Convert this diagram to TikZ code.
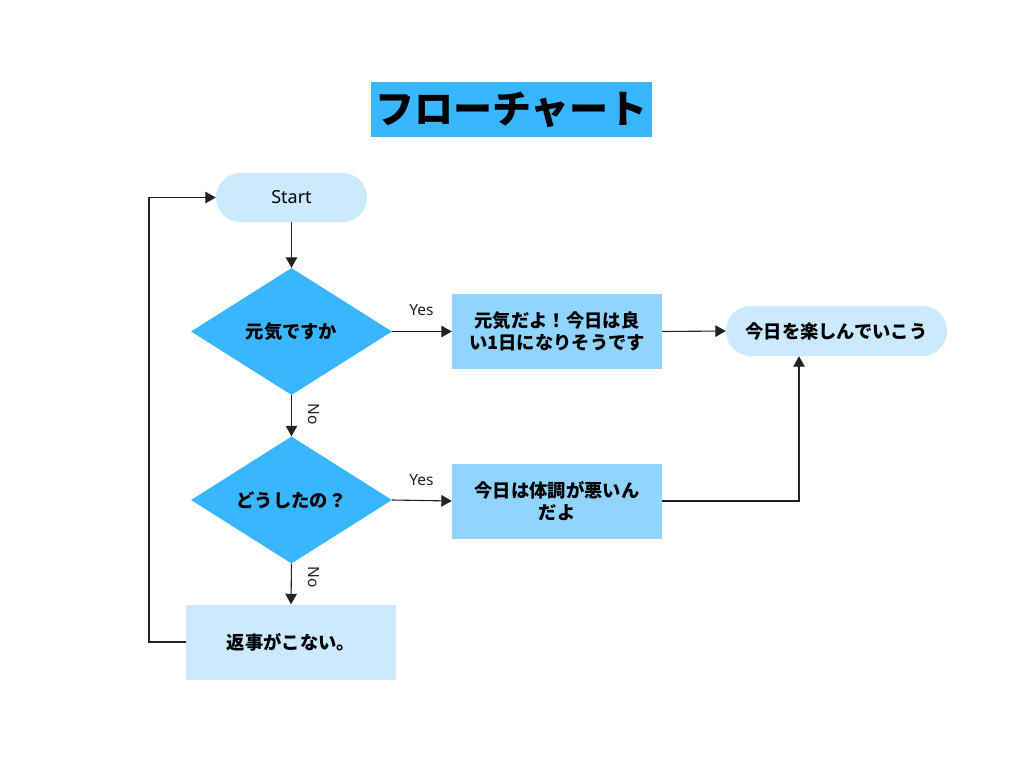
\documentclass[tikz,border=0pt]{standalone}
\usepackage{fontspec}
\setmainfont{Noto Sans}
\newfontfamily\jp{Noto Sans CJK JP}
\usetikzlibrary{shapes.geometric,arrows.meta}
\definecolor{deep}{HTML}{38B6FF}
\definecolor{mid}{HTML}{91D5FF}
\definecolor{pale}{HTML}{CBE9FF}
\definecolor{ln}{HTML}{222222}
\tikzset{
  jtext/.style={font=\jp\bfseries\fontsize{18.3}{21.5}\selectfont, text=black, align=center},
  pill/.style={jtext, rectangle, rounded corners=24.5pt, fill=pale, inner sep=0pt},
  decision/.style={jtext, diamond, fill=deep, inner sep=0pt, minimum width=201pt, minimum height=127pt},
  procbox/.style={jtext, rectangle, inner sep=0pt, minimum width=210pt, minimum height=75pt},
  conn/.style={draw=ln, line width=1.1pt, -{Triangle[length=10.5pt,width=11.5pt]}},
  lbl/.style={font=\fontsize{15.5}{18}\selectfont, text=ln, inner sep=0pt}
}
\begin{document}
\begin{tikzpicture}[x=1pt,y=-1pt]
\useasboundingbox (0,0) rectangle (1024,768);
\fill[white] (0,0) rectangle (1024,768);
% title
\node[fill=deep, minimum width=281pt, minimum height=55pt, inner sep=0pt,
      font=\jp\bfseries\fontsize{39}{42}\selectfont] (title) at (511.5,109.5) {\raisebox{-1pt}{フローチャート}};
% nodes
\node[pill, minimum width=151pt, minimum height=49pt, font=\fontsize{18}{21}\selectfont] (start) at (291.5,197.5) {Start};
\node[decision] (d1) at (291.5,331.5) {元気ですか};
\node[procbox, fill=mid] (b1) at (557,331.5) {元気だよ！今日は良\\い1日になりそうです};
\node[pill, minimum width=221pt, minimum height=50pt] (term) at (836.5,331) {今日を楽しんでいこう};
\node[decision] (d2) at (291.5,500) {どうしたの？};
\node[procbox, fill=mid] (b2) at (557,501) {今日は体調が悪いん\\だよ};
\node[procbox, fill=pale] (b3) at (291,642) {返事がこない。};
% connectors
\draw[conn] (start) -- (d1.north);
\draw[conn] (d1.east) -- (b1.west);
\draw[conn] (b1.east) -- (term.west);
\draw[conn] (d1.south) -- (d2.north);
\draw[conn] (d2.east) -- (b2.west);
\draw[conn] (d2.south) -- (b3.north);
\coordinate (c1) at (799,501);
\draw[conn] (b2.east) -- (c1) -- (c1 |- term.south);
\coordinate (c2) at (149,642);
\coordinate (c3) at (149,197.5);
\draw[conn] (b3.west) -- (c2) -- (c3) -- (start.west);
% labels
\node[lbl] (y1) at (421.5,310.5) {Yes};
\node[lbl] (y2) at (421.5,480.5) {Yes};
\node[lbl, rotate=-90] (no1) at (313.5,414) {No};
\node[lbl, rotate=-90] (no2) at (313.5,577) {No};
\end{tikzpicture}
\end{document}
